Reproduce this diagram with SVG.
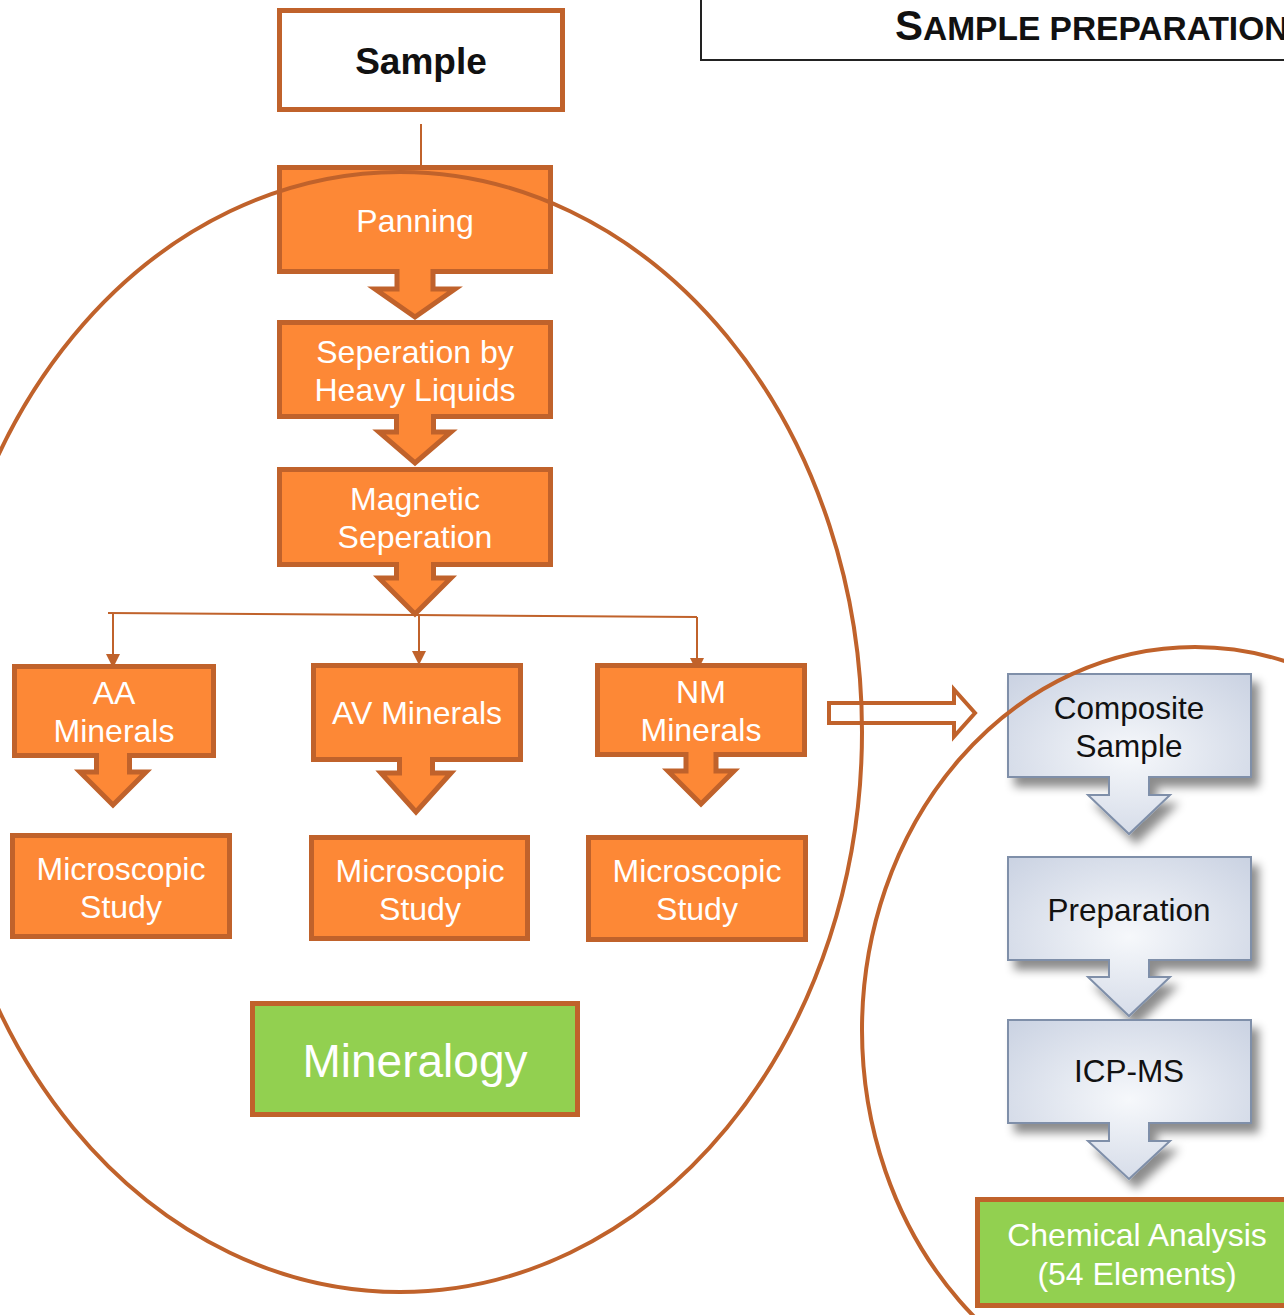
<svg xmlns="http://www.w3.org/2000/svg" width="1284" height="1315" viewBox="0 0 1284 1315">
<style>
.ob{fill:#FD8836;stroke:#C0622B;stroke-width:5;stroke-linejoin:miter}
.gb{fill:#92D050;stroke:#C0622B;stroke-width:5}
.bb{fill:url(#bg);stroke:#7F8FA9;stroke-width:2;filter:url(#sh)}
.wt{font-family:"Liberation Sans",Arial,sans-serif;fill:#fff;text-anchor:middle;font-size:32px}
.big{font-size:46px}
.mid{font-size:32px}
.bt{font-family:"Liberation Sans",Arial,sans-serif;fill:#111;text-anchor:middle;font-size:31.5px}
.ell{fill:none;stroke:#C0622B;stroke-width:4}
.conn{fill:none;stroke:#C0622B;stroke-width:2}
</style>
<defs>
<radialGradient id="bg" cx="50%" cy="50%" r="70%">
<stop offset="0" stop-color="#F6F8FB"/>
<stop offset="1" stop-color="#CAD2E2"/>
</radialGradient>
<filter id="sh" x="-20%" y="-20%" width="150%" height="150%">
<feDropShadow dx="7" dy="9" stdDeviation="5" flood-color="#000" flood-opacity="0.45"/>
</filter>
<marker id="ah" markerUnits="userSpaceOnUse" markerWidth="14" markerHeight="14" refX="14" refY="7" orient="auto">
<path d="M0,0 L14,7 L0,14 Z" fill="#C0622B"/>
</marker>
</defs>
<rect width="1284" height="1315" fill="#fff"/>

<g id="title">
<path d="M701,-3 V60 H1290" fill="none" stroke="#222" stroke-width="2"/>
<text x="895" y="40" font-family="Liberation Sans,Arial,sans-serif" font-weight="bold" fill="#111"><tspan font-size="42">S</tspan><tspan font-size="33.5">AMPLE PREPARATION</tspan></text>
</g>

<g id="connectors">
<line class="conn" x1="421" y1="124" x2="421" y2="166"/>
<polyline class="conn" points="108,613 415,615 697,617"/>
<line class="conn" x1="113" y1="613" x2="113" y2="668" marker-end="url(#ah)"/>
<line class="conn" x1="419" y1="615" x2="419" y2="665" marker-end="url(#ah)"/>
<line class="conn" x1="697" y1="617" x2="697" y2="672" marker-end="url(#ah)"/>
<path d="M829,703 H954 V689.5 L975,713 L954,736.5 V723 H829 Z" fill="#fff" stroke="#C0622B" stroke-width="4"/>
</g>

<g id="sample">
<rect x="279.5" y="10.5" width="283" height="99" fill="#fff" stroke="#C0622B" stroke-width="5"/>
<text x="421" y="74" font-family="Liberation Sans,Arial,sans-serif" font-weight="bold" font-size="37" fill="#111" text-anchor="middle">Sample</text>
</g>

<g id="panning">
<path class="ob" d="M279.5,167.5 H550.5 V271.5 H433 V289 H455 L415,317 L375,289 H397 V271.5 H279.5 Z"/>
<text class="wt" x="415" y="232">Panning</text>
</g>

<g id="separation">
<path class="ob" d="M279.5,322.5 H550.5 V416.5 H433.5 V432 H451 L415,463 L379,432 H396.5 V416.5 H279.5 Z"/>
<text class="wt" x="415" y="363">Seperation by</text>
<text class="wt" x="415" y="401">Heavy Liquids</text>
</g>

<g id="magnetic">
<path class="ob" d="M279.5,469.5 H550.5 V564.5 H433.5 V578 H451 L415,614 L379,578 H396.5 V564.5 H279.5 Z"/>
<text class="wt" x="415" y="510">Magnetic</text>
<text class="wt" x="415" y="548">Seperation</text>
</g>

<g id="aa">
<path class="ob" d="M14.5,666.5 H213.5 V755.5 H129.5 V772 H146 L113,805 L80,772 H96.5 V755.5 H14.5 Z"/>
<text class="wt" x="114" y="704">AA</text>
<text class="wt" x="114" y="742">Minerals</text>
</g>

<g id="av">
<path class="ob" d="M313.5,665.5 H520.5 V759.5 H432.5 V773 H451 L416,812 L381,773 H399.5 V759.5 H313.5 Z"/>
<text class="wt" x="417" y="724">AV Minerals</text>
</g>

<g id="nm">
<path class="ob" d="M597.5,665.5 H804.5 V754.5 H716 V771 H734 L701,804 L668,771 H686 V754.5 H597.5 Z"/>
<text class="wt" x="701" y="703">NM</text>
<text class="wt" x="701" y="741">Minerals</text>
</g>

<g id="micro1">
<rect class="ob" x="12.5" y="835.5" width="217" height="101"/>
<text class="wt" x="121" y="880">Microscopic</text>
<text class="wt" x="121" y="918">Study</text>
</g>

<g id="micro2">
<rect class="ob" x="311.5" y="837.5" width="216" height="101"/>
<text class="wt" x="420" y="882">Microscopic</text>
<text class="wt" x="420" y="920">Study</text>
</g>

<g id="micro3">
<rect class="ob" x="588.5" y="837.5" width="217" height="102"/>
<text class="wt" x="697" y="882">Microscopic</text>
<text class="wt" x="697" y="920">Study</text>
</g>

<g id="mineralogy">
<rect class="gb" x="252.5" y="1003.5" width="325" height="111"/>
<text class="wt big" x="415" y="1077">Mineralogy</text>
</g>

<g id="composite">
<path class="bb" d="M1008,674 H1251 V777 H1149 V795 H1170 L1129,834 L1088,795 H1109 V777 H1008 Z"/>
<text class="bt" x="1129" y="719">Composite</text>
<text class="bt" x="1129" y="757">Sample</text>
</g>

<g id="preparation">
<path class="bb" d="M1008,857 H1251 V960 H1149 V977 H1170 L1129,1016 L1088,977 H1109 V960 H1008 Z"/>
<text class="bt" x="1129" y="921">Preparation</text>
</g>

<g id="icpms">
<path class="bb" d="M1008,1020 H1251 V1123 H1149 V1141 H1170 L1129,1179 L1088,1141 H1109 V1123 H1008 Z"/>
<text class="bt" x="1129" y="1082">ICP-MS</text>
</g>

<g id="chemical">
<rect class="gb" x="977.5" y="1199.5" width="320" height="106"/>
<text class="wt mid" x="1137" y="1246">Chemical Analysis</text>
<text class="wt mid" x="1137" y="1285">(54 Elements)</text>
</g>

<g id="groupings">
<ellipse class="ell" cx="400" cy="732" rx="462" ry="560"/>
<ellipse class="ell" cx="1195" cy="1030" rx="333" ry="383"/>
</g>
</svg>
